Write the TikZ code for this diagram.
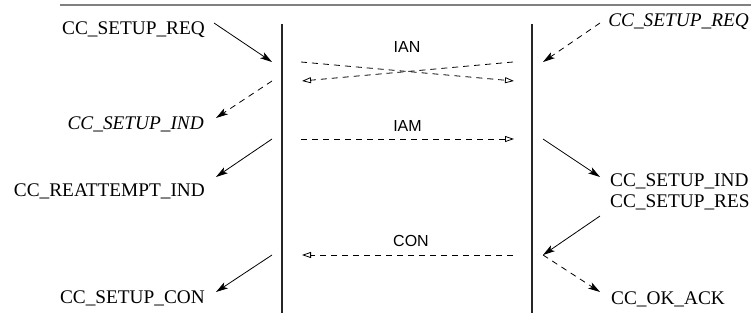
\documentclass[tikz,border=0pt]{standalone}
\usepackage{fontspec}
\setmainfont{Liberation Serif}
\setsansfont{Liberation Sans}
\usetikzlibrary{arrows.meta}
\begin{document}
\begin{tikzpicture}[x=1pt,y=-1pt,
  lbl/.style={inner sep=0pt,font=\fontsize{19.3}{22}\selectfont},
  ilbl/.style={lbl,font=\fontsize{19.3}{22}\selectfont\itshape},
  msg/.style={inner sep=0pt,font=\sffamily\fontsize{16}{19}\selectfont},
  life/.style={line width=1.2pt,black!85},
  call/.style={line width=0.8pt,-{Stealth[length=12pt,width=7pt,inset=3pt]}},
  dcall/.style={call,dash pattern=on 6pt off 5pt},
  sig/.style={line width=0.8pt,dash pattern=on 6pt off 5pt,-{Triangle[open,length=9pt,width=6pt,line width=0.8pt]}}]
\useasboundingbox (0,0) rectangle (751,328);
\draw[line width=2pt,black!50] (60,5) -- (751,5);
% lifelines
\coordinate (L1) at (282,24); \coordinate (L2) at (282,313);
\coordinate (R1) at (532,24); \coordinate (R2) at (532,313);
\draw[life] (L1) -- (L2);
\draw[life] (R1) -- (R2);
% left labels
\node[lbl,anchor=base east] (lreq) at (205,35) {CC\_SETUP\_REQ};
\node[ilbl,anchor=base east] (lind) at (204,130) {CC\_SETUP\_IND};
\node[lbl,anchor=base east] (lrea) at (205,197) {CC\_REATTEMPT\_IND};
\node[lbl,anchor=base east] (lcon) at (205,303) {CC\_SETUP\_CON};
% right labels
\node[ilbl,anchor=base east] (rreq) at (749,27) {CC\_SETUP\_REQ};
\node[lbl,anchor=base west] (rind) at (610,187) {CC\_SETUP\_IND};
\node[lbl,anchor=base west] (rres) at (610,208) {CC\_SETUP\_RES};
\node[lbl,anchor=base west] (rack) at (611,304) {CC\_OK\_ACK};
% message labels
\node[msg,anchor=base] (ian) at (407,53) {IAN};
\node[msg,anchor=base] (iam) at (407.5,132) {IAM};
\node[msg,anchor=base] (con) at (411,247) {CON};
% coordinates
\coordinate (a1s) at (214,23);  \coordinate (a1e) at (272,62);
\coordinate (a2s) at (272,81);  \coordinate (a2e) at (216,118);
\coordinate (a3s) at (272,139); \coordinate (a3e) at (216,177);
\coordinate (a4s) at (272,255); \coordinate (a4e) at (216,292);
\coordinate (b1s) at (600,23);  \coordinate (b1e) at (543,62);
\coordinate (b2s) at (543,139); \coordinate (b2e) at (600,177);
\coordinate (b3s) at (600,216); \coordinate (b3e) at (543,255);
\coordinate (b4e) at (600,292);
\coordinate (m1s) at (301,62);  \coordinate (m1e) at (514,81);
\coordinate (m2s) at (513,62);  \coordinate (m2e) at (302,81);
\coordinate (m3s) at (301,139); \coordinate (m3e) at (514,139);
\coordinate (m4s) at (513,255); \coordinate (m4e) at (302,255);
% left calls
\draw[call] (a1s) -- (a1e);
\draw[dcall] (a2s) -- (a2e);
\draw[call] (a3s) -- (a3e);
\draw[call] (a4s) -- (a4e);
% right calls
\draw[dcall] (b1s) -- (b1e);
\draw[call] (b2s) -- (b2e);
\draw[call] (b3s) -- (b3e);
\draw[dcall] (b3e) -- (b4e);
% messages
\draw[sig] (m1s) -- (m1e);
\draw[sig] (m2s) -- (m2e);
\draw[sig] (m3s) -- (m3e);
\draw[sig] (m4s) -- (m4e);
\end{tikzpicture}
\end{document}
